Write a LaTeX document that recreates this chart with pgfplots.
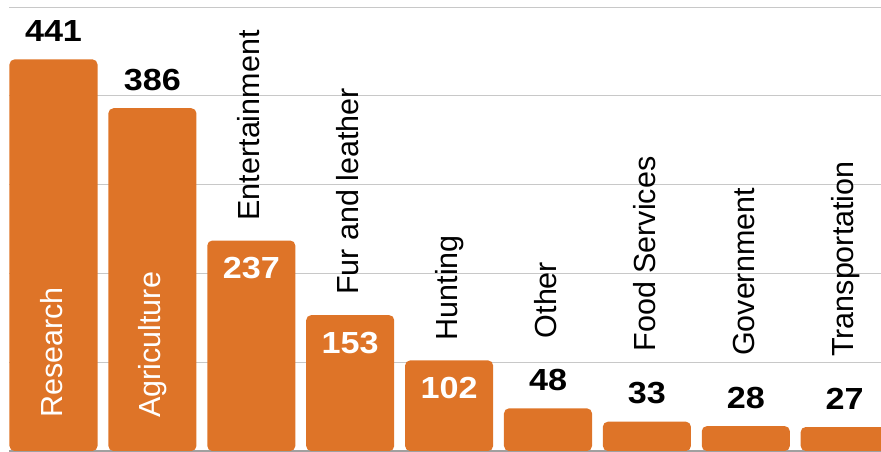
\documentclass[border=0pt]{standalone}
\usepackage{pgfplots}
\pgfplotsset{compat=1.18}
\usepackage{pgfplotstable}
\usepackage{fontspec}
\setmainfont{Liberation Sans}
\newfontfamily\numfont{Liberation Sans}[FakeStretch=1.12]
\definecolor{barc}{RGB}{222,116,40}
\definecolor{gridc}{RGB}{200,200,200}
\definecolor{basec}{RGB}{160,160,160}

\pgfplotstableread[col sep=comma]{
x,y,label
0,441,Research
1,386,Agriculture
2,237,Entertainment
3,153,Fur and leather
4,102,Hunting
5,48,Other
6,33,Food Services
7,28,Government
8,27,Transportation
}\data

\newcommand{\numstyle}{\fontsize{30.5}{36}\numfont\bfseries}

\begin{document}
\begin{tikzpicture}
\begin{axis}[
  scale only axis,
  width=872pt, height=451pt,
  xmin=-0.45, xmax=8.367,
  ymin=0, ymax=507.9,
  axis x line*=bottom,
  axis y line*=left,
  y axis line style={draw=none},
  x axis line style={draw=basec, line width=1.5pt, -},
  xtick=\empty,
  ytick={100,200,300,400,500},
  yticklabels={},
  ymajorgrids,
  major grid style={draw=gridc, line width=1pt},
  tick style={draw=none},
  /pgf/number format/assume math mode=true,
  clip=true,
  font=\fontsize{30.5}{36}\selectfont,
]
\coordinate (SW) at (rel axis cs:0,0);
\coordinate (NE) at (rel axis cs:1,1);

% bars
\addplot[ybar, bar width=0.89, fill=barc, draw=none, rounded corners=5pt]
  table[x=x, y=y]{\data};

% values above bars (black)
\addplot[draw=none, mark=none, restrict x to domain=0:1,
  nodes near coords={\numstyle\pgfmathprintnumber{\pgfplotspointmeta}},
  every node near coord/.style={anchor=base, yshift=18pt, inner sep=0pt, text=black}]
  table[x=x, y=y]{\data};
\addplot[draw=none, mark=none, restrict x to domain=5:8,
  nodes near coords={\numstyle\pgfmathprintnumber{\pgfplotspointmeta}},
  every node near coord/.style={anchor=base, yshift=18pt, inner sep=0pt, text=black}]
  table[x=x, y=y]{\data};

% values inside bars (white)
\addplot[draw=none, mark=none, restrict x to domain=2:4,
  nodes near coords={\numstyle\pgfmathprintnumber{\pgfplotspointmeta}},
  every node near coord/.style={anchor=base, yshift=-38pt, inner sep=0pt, text=white}]
  table[x=x, y=y]{\data};

% category labels inside bars (white)
\addplot[draw=none, mark=none, restrict x to domain=0:1,
  point meta=explicit symbolic,
  nodes near coords={\pgfplotspointmeta},
  every node near coord/.style={xshift=8.5pt, yshift=33pt, rotate=90, anchor=base west, inner sep=0pt, text=white}]
  table[x=x, y expr=0, meta=label]{\data};

% category labels above bars
\addplot[draw=none, mark=none, restrict x to domain=2:4,
  point meta=explicit symbolic,
  nodes near coords={\pgfplotspointmeta},
  every node near coord/.style={xshift=8.5pt, yshift=20pt, rotate=90, anchor=base west, inner sep=0pt, text=black}]
  table[x=x, y=y, meta=label]{\data};
\addplot[draw=none, mark=none, restrict x to domain=5:8,
  point meta=explicit symbolic,
  nodes near coords={\pgfplotspointmeta},
  every node near coord/.style={xshift=8.5pt, yshift=70pt, rotate=90, anchor=base west, inner sep=0pt, text=black}]
  table[x=x, y=y, meta=label]{\data};
\end{axis}
\pgfresetboundingbox
\useasboundingbox ([xshift=-9pt,yshift=-1pt]SW) rectangle (NE);
\end{tikzpicture}
\end{document}
